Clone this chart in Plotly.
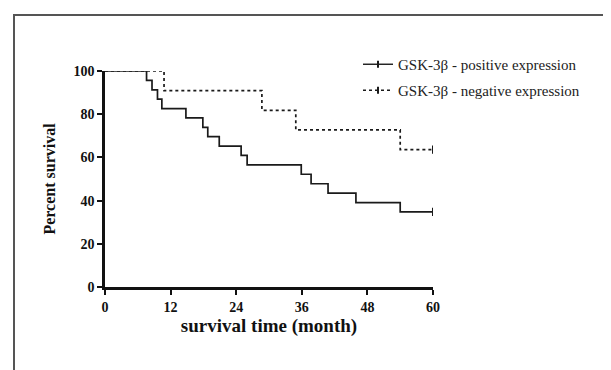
import plotly.graph_objects as go

# Kaplan-Meier style step data (months, percent survival)
pos_time = [0, 7.6, 8.6, 9.6, 10.4, 14.8, 17.9, 18.8, 20.9, 24.9, 26.0, 35.9, 37.7, 40.8, 45.9, 54.0, 60]
pos_surv = [100, 95.7, 91.3, 87.0, 82.6, 78.3, 73.9, 69.6, 65.2, 60.9, 56.5, 52.2, 47.8, 43.5, 39.1, 34.8, 34.8]
neg_time = [0, 10.8, 28.7, 34.9, 54.0, 60]
neg_surv = [100, 90.9, 81.8, 72.7, 63.6, 63.6]
pos_cens_t = [60]
pos_cens_s = [34.8]
neg_cens_t = [60]
neg_cens_s = [63.6]

x_ticks = [0, 12, 24, 36, 48, 60]
y_ticks = [0, 20, 40, 60, 80, 100]
names = ["GSK-3\u03b2 - positive expression", "GSK-3\u03b2 - negative expression"]

W, H = 611, 370
L, R, T, B = 97, 186, 63, 91
PW, PH = W - L - R, H - T - B

def px(x):
    return (x - L) / PW

def py(y):
    return 1 + (T - y) / PH

INK = "#1a1a1a"
fig = go.Figure()
fig.add_trace(go.Scatter(x=pos_time, y=pos_surv, mode="lines", line_shape="hv",
                         line=dict(color=INK, width=1.7), showlegend=False))
fig.add_trace(go.Scatter(x=neg_time, y=neg_surv, mode="lines", line_shape="hv",
                         line=dict(color=INK, width=1.7, dash="dot"), showlegend=False))
cens_marker = dict(symbol="line-ns-open", size=6, color=INK, line=dict(color=INK, width=2))
fig.add_trace(go.Scatter(x=pos_cens_t, y=pos_cens_s, mode="markers", marker=cens_marker,
                         showlegend=False))
fig.add_trace(go.Scatter(x=neg_cens_t, y=neg_cens_s, mode="markers", marker=cens_marker,
                         showlegend=False))
# legend entries
leg_marker = dict(symbol="line-ns-open", size=5, color=INK, line=dict(color=INK, width=2))
fig.add_trace(go.Scatter(x=[None], y=[None], mode="lines+markers", name=names[0],
                         line=dict(color=INK, width=1.4), marker=leg_marker, legend="legend"))
fig.add_trace(go.Scatter(x=[None], y=[None], mode="lines+markers", name=names[1],
                         line=dict(color=INK, width=1.4, dash="dot"), marker=leg_marker,
                         legend="legend2"))

font_family = "Liberation Serif, Times New Roman, serif"
axis_common = dict(showline=True, linecolor="#111", linewidth=2.5, ticks="outside",
                   ticklen=5, tickwidth=2, tickcolor="#111", showgrid=False, zeroline=False,
                   tickfont=dict(family=font_family, size=14, color="#111", weight="bold"))

leg_font = dict(family=font_family, size=15, color="#222")
fig.update_layout(
    width=W, height=H,
    margin=dict(l=L, r=R, t=T, b=B),
    paper_bgcolor="white", plot_bgcolor="white",
    font=dict(family=font_family, color="#222"),
    xaxis=dict(range=[0, 60], tickvals=x_ticks, ticktext=[str(v) for v in x_ticks],
               title=dict(text="survival time (month)", standoff=6,
                          font=dict(family=font_family, size=19, color="#111", weight="bold")),
               **axis_common),
    yaxis=dict(range=[0, 100], tickvals=y_ticks, ticktext=[str(v) for v in y_ticks],
               title=dict(text="Percent survival", standoff=14,
                          font=dict(family=font_family, size=16, color="#111", weight="bold")),
               **axis_common),
    legend=dict(x=px(350), y=py(40), xanchor="left", yanchor="top",
                bgcolor="rgba(0,0,0,0)", font=leg_font, itemwidth=30),
    legend2=dict(x=px(350), y=py(66), xanchor="left", yanchor="top",
                 bgcolor="rgba(0,0,0,0)", font=leg_font, itemwidth=30),
    shapes=[dict(type="rect", xref="paper", yref="paper",
                 x0=px(6), x1=px(605), y0=py(372), y1=py(7),
                 line=dict(color="#555", width=2), fillcolor="rgba(0,0,0,0)", layer="below")],
)

fig.write_html("out.html")
